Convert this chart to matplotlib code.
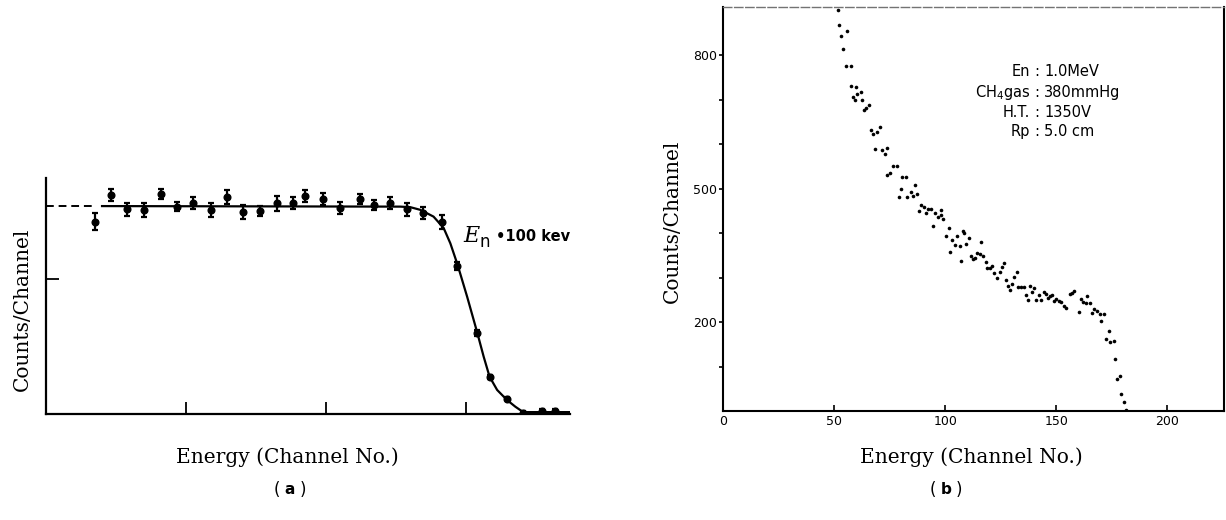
import matplotlib
matplotlib.use("Agg")
import matplotlib.pyplot as plt

# (a) proton-recoil response at En = 100 keV, arbitrary units
chan_a = [17.5, 23.1, 29.0, 35.0, 41.0, 46.7, 52.6, 58.8, 64.5, 70.3, 76.2, 82.4,
          88.0, 92.5, 98.8, 105.0, 112.1, 116.9, 122.6, 129.0, 134.7, 141.3,
          146.8, 153.8, 158.3, 164.5, 170.3, 177.1, 181.8]
counts_a = [712, 811, 758, 756, 815, 768, 780, 756, 804, 749, 753, 780,
            780, 808, 795, 762, 795, 774, 780, 758, 745, 712,
            548, 300, 138, 56, 5, 12, 12]
err_a = [32, 22, 25, 25, 17, 17, 22, 25, 27, 25, 19, 28,
         22, 22, 22, 22, 19, 17, 22, 25, 23, 26,
         14, 12, 8, 6, 5, 5, 5]

# fitted curve through the (a) spectrum
fit_x = [20.0, 126.4, 130.0, 133.6, 138.3, 141.9, 144.3, 146.9, 150.3, 153.8,
         156.2, 158.3, 161.0, 164.5, 167.5, 170.3, 187.0]
fit_y = [770, 768, 766, 756, 731, 689, 632, 552, 434, 305,
         212, 138, 89, 52, 27, 7, 7]
dash_x = [0.0, 16.8]
dash_y = [770, 770]

# (b) En = 1.0 MeV, CH4 380 mmHg
chan_b = [51.7, 52.4, 53.2, 53.9, 55.4, 55.6, 57.4, 57.7, 58.4, 59.6, 59.9, 60.4,
          62.2, 62.4, 63.4, 64.4, 65.5, 66.4, 67.4, 68.5, 69.4, 70.6, 71.6, 72.7,
          73.7, 74.0, 75.3, 76.5, 78.2, 79.4, 80.2, 80.7, 82.3, 82.9, 84.4, 85.4,
          86.6, 87.4, 88.1, 88.9, 90.4, 91.4, 92.2, 93.7, 94.5, 95.2, 96.7, 97.9,
          98.2, 99.2, 100.5, 101.7, 102.3, 103.0, 104.2, 105.4, 106.5, 106.9, 108.0,
          108.4, 109.2, 110.5, 111.4, 112.5, 113.5, 114.4, 115.9, 116.2, 117.0,
          118.5, 118.9, 120.4, 121.2, 122.2, 123.4, 124.5, 125.5, 126.4, 127.5,
          128.2, 129.4, 130.2, 131.2, 132.3, 133.0, 134.2, 135.5, 136.5, 137.3,
          138.3, 139.2, 140.2, 141.0, 142.2, 143.2, 144.3, 145.2, 146.3, 147.0,
          148.2, 148.8, 150.0, 151.2, 152.3, 153.5, 154.5, 156.0, 157.1, 158.0,
          160.2, 161.3, 162.0, 163.2, 164.0, 165.3, 166.2, 167.0, 168.5, 169.5,
          170.3, 171.3, 172.2, 173.6, 174.3, 175.8, 176.6, 177.3, 178.8, 179.3,
          180.5, 181.5]
counts_b = [901, 867, 843, 813, 776, 854, 775, 731, 706, 699, 729, 712,
            716, 699, 676, 682, 688, 631, 622, 589, 626, 638, 587, 577,
            592, 530, 534, 550, 551, 480, 500, 527, 526, 480, 493, 484,
            508, 487, 449, 463, 459, 446, 453, 453, 416, 444, 437, 452,
            440, 431, 393, 411, 358, 384, 373, 394, 371, 337, 404,
            401, 375, 389, 348, 341, 344, 356, 353, 380, 348,
            336, 321, 321, 326, 311, 300, 313, 323, 333, 294,
            281, 273, 285, 302, 313, 279, 279, 279, 261, 249,
            281, 268, 276, 249, 261, 249, 267, 262, 253, 258,
            261, 248, 252, 247, 246, 236, 231, 263, 266, 270,
            222, 251, 246, 242, 258, 242, 221, 229, 225, 218,
            203, 218, 161, 180, 154, 157, 116, 71, 79, 38,
            20, 2]

b_yticks = [100, 200, 300, 400, 500, 600, 700, 800]
b_ylabels = ["", "200", "", "", "500", "", "", "800"]
b_xticks = [0, 50, 100, 150, 200]
b_xlabels = ["0", "50", "100", "150", "200"]

cond_keys = ["En", "CH$_4$gas", "H.T.", "Rp"]
cond_vals = ["1.0MeV", "380mmHg", "1350V", "5.0 cm"]
cond_y = [763, 715, 670, 629]

W, H = 1226, 520
fig = plt.figure(figsize=(W / 100, H / 100), dpi=100)
serif = "DejaVu Serif"
sans = "DejaVu Sans"


def box(l, t, r, b):
    return [l / W, 1 - b / H, (r - l) / W, (b - t) / H]


# ---- panel (a)
ax = fig.add_axes(box(46, 178, 570, 414))
ax.set_xlim(0, 187)
ax.set_ylim(0, 874)
for side in ("top", "right"):
    ax.spines[side].set_visible(False)
for side in ("left", "bottom"):
    ax.spines[side].set_linewidth(1.6)
ax.plot(dash_x, dash_y, color="black", lw=1.4, ls=(0, (4, 2.5)))
ax.plot(fit_x, fit_y, color="black", lw=1.6)
ax.errorbar(chan_a, counts_a, yerr=err_a, fmt="o", color="black", ms=4.8,
            elinewidth=1.6, capsize=2.5, capthick=1.6)
ax.set_xticks([50, 100, 150])
ax.set_yticks([500])
ax.tick_params(direction="in", length=9, width=1.3, labelbottom=False, labelleft=False)
ax.text(149, 637, "E", family=serif, style="italic", fontsize=16, va="baseline")
ax.text(154.6, 617, "n", family=sans, fontsize=12, va="baseline")
ax.text(160.5, 640, "\u2022100 kev", family=sans, weight="bold", fontsize=10.5,
        va="baseline")

# ---- panel (b)
bx = fig.add_axes(box(723, 7, 1224, 411))
bx.set_xlim(0, 225.5)
bx.set_ylim(0, 908)
bx.plot(chan_b, counts_b, "o", color="black", ms=2.6, mew=0)
for side in ("left", "bottom", "right"):
    bx.spines[side].set_linewidth(1.5)
bx.spines["top"].set_linewidth(1.0)
bx.spines["top"].set_color("0.45")
bx.spines["top"].set_linestyle((0, (6, 2)))
bx.set_xticks(b_xticks, b_xlabels, family=sans, fontsize=9)
bx.set_yticks(b_yticks, b_ylabels, family=sans, fontsize=9)
bx.tick_params(axis="x", direction="in", length=4, width=1.2, pad=3)
bx.tick_params(axis="y", direction="out", length=3, width=1.2, pad=1)
for k, v, y in zip(cond_keys, cond_vals, cond_y):
    bx.text(138.3, y, k, family=sans, fontsize=10.5, ha="right", va="center")
    bx.text(141.4, y, ":", family=sans, fontsize=10.5, ha="center", va="center")
    bx.text(144.6, y, v, family=sans, fontsize=10.5, ha="left", va="center")

# axis titles and panel tags
fig.text(22 / W, 1 - 309 / H, "Counts/Channel", family=serif, fontsize=14.5,
         rotation=90, ha="center", va="center")
fig.text(672 / W, 1 - 221 / H, "Counts/Channel", family=serif, fontsize=14.5,
         rotation=90, ha="center", va="center")
fig.text(287 / W, 1 - 457 / H, "Energy (Channel No.)", family=serif, fontsize=14.5,
         ha="center", va="center")
fig.text(971 / W, 1 - 457 / H, "Energy (Channel No.)", family=serif, fontsize=14.5,
         ha="center", va="center")
for cx, tag in ((290, "a"), (946, "b")):
    fig.text((cx - 13) / W, 1 - 490 / H, "(", family=sans, fontsize=12,
             ha="center", va="center")
    fig.text(cx / W, 1 - 490 / H, tag, family=sans, weight="bold", fontsize=11,
             ha="center", va="center")
    fig.text((cx + 13) / W, 1 - 490 / H, ")", family=sans, fontsize=12,
             ha="center", va="center")

fig.savefig("out.png", dpi=100)
